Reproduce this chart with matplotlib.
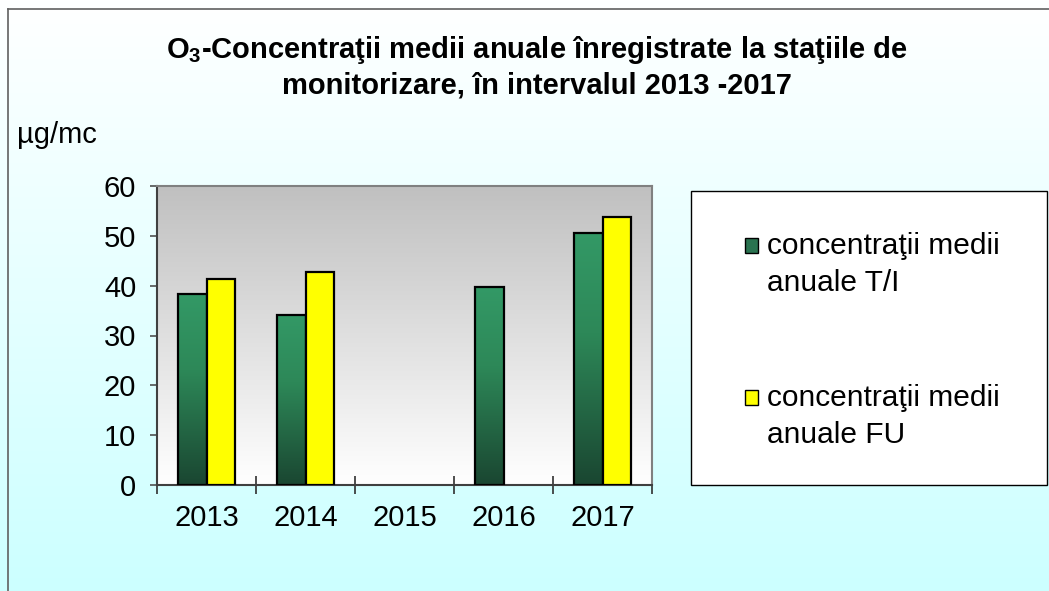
import numpy as np
import matplotlib
matplotlib.use("Agg")
import matplotlib.pyplot as plt
from matplotlib.patches import Patch, Rectangle
from matplotlib.lines import Line2D
from matplotlib.colors import LinearSegmentedColormap

plt.rcParams['font.family'] = ['Liberation Sans', 'DejaVu Sans']
plt.rcParams['mathtext.fontset'] = 'custom'
plt.rcParams['mathtext.bf'] = 'Liberation Sans:bold'
plt.rcParams['mathtext.rm'] = 'Liberation Sans'

# data
years = ['2013', '2014', '2015', '2016', '2017']
ti_values = [38.3, 34.2, np.nan, 39.7, 50.6]   # concentratii medii anuale T/I
fu_values = [41.4, 42.7, np.nan, np.nan, 53.8]  # concentratii medii anuale FU
ti_label = 'concentraţii medii\nanuale T/I'
fu_label = 'concentraţii medii\nanuale FU'

fig = plt.figure(figsize=(10.49, 5.91), dpi=100)

# figure background: white -> light cyan
bg = fig.add_axes([0, 0, 1, 1], zorder=-10)
bg_cmap = LinearSegmentedColormap.from_list('bg', ['#ffffff', '#ccffff'])
bg.imshow(np.linspace(0, 1, 256).reshape(-1, 1), cmap=bg_cmap, aspect='auto',
          extent=[0, 1, 0, 1], origin='upper')
bg.set_xlim(0, 1)
bg.set_ylim(0, 1)
bg.axis('off')

# outer frame (left and top edge)
fig.add_artist(Line2D([8 / 1049, 8 / 1049], [0, 1 - 9 / 591], transform=fig.transFigure,
                      color='#606060', lw=1.2))
fig.add_artist(Line2D([8 / 1049, 1], [1 - 9 / 591, 1 - 9 / 591], transform=fig.transFigure,
                      color='#606060', lw=1.2))

ax = fig.add_axes([157 / 1049, 1 - 485 / 591, 495 / 1049, 299 / 591])
ax.set_facecolor('none')

# plot area background: gray -> white
pa_cmap = LinearSegmentedColormap.from_list('pa', ['#ffffff', '#c0c0c0'])
ax.imshow(np.linspace(0, 1, 256).reshape(-1, 1), cmap=pa_cmap, aspect='auto',
          extent=[0, 1, 0, 1], origin='lower', transform=ax.transAxes, zorder=0)

x = np.arange(len(years))
w = 0.29
ti = np.array(ti_values)
fu = np.array(fu_values)
m1 = ~np.isnan(ti)
m2 = ~np.isnan(fu)

green_cmap = LinearSegmentedColormap.from_list(
    'gr', [(0.0, '#1a4631'), (0.6, '#2d8858'), (1.0, '#339966')])
ti_bars = ax.bar(x[m1] - w / 2, ti[m1], width=w, facecolor='none', edgecolor='black',
                 linewidth=1.6, zorder=3)
for b in ti_bars:
    bx, bw, bh = b.get_x(), b.get_width(), b.get_height()
    ax.imshow(np.linspace(0, 1, 256).reshape(-1, 1), cmap=green_cmap, aspect='auto',
              extent=[bx, bx + bw, 0, bh], origin='lower', zorder=2)
ax.bar(x[m2] + w / 2, fu[m2], width=w, color='#ffff00', edgecolor='black',
       linewidth=1.6, zorder=3)

ax.set_xlim(-0.5, len(years) - 0.5)
ax.set_ylim(0, 60)
ax.set_yticks(np.arange(0, 61, 10))
ax.set_xticks(np.arange(-0.5, len(years), 1.0))
ax.set_xticklabels([])
ax.set_xticks(x, minor=True)
ax.set_xticklabels(years, minor=True)
ax.tick_params(axis='x', which='major', direction='inout', length=13, width=1.2,
               color='#303030')
ax.tick_params(axis='x', which='minor', length=0, pad=14, labelsize=21)
ax.tick_params(axis='y', direction='out', length=5, width=1.2, color='#505050',
               pad=10, labelsize=21)
for s in ['top', 'right']:
    ax.spines[s].set_color('#808080')
    ax.spines[s].set_linewidth(1.5)
for s in ['left', 'bottom']:
    ax.spines[s].set_color('#404040')
    ax.spines[s].set_linewidth(1.5)

# title and unit
fig.text(537 / 1049, 1 - 67 / 591,
         'O$_\\mathbf{3}$-Concentraţii medii anuale înregistrate la staţiile de\n'
         'monitorizare, în intervalul 2013 -2017',
         ha='center', va='center', fontsize=21, fontweight='bold', linespacing=1.27)
fig.text(17 / 1049, 1 - 135 / 591, 'µg/mc', ha='left', va='center', fontsize=21)

# legend box
fig.add_artist(Rectangle((691 / 1049, 1 - 485 / 591), 356 / 1049, 294 / 591,
                         transform=fig.transFigure, facecolor='white',
                         edgecolor='black', lw=1.0, zorder=1))
handles = [Patch(facecolor='#2a7350', edgecolor='black', linewidth=1.0),
           Patch(facecolor='#ffff00', edgecolor='black', linewidth=1.0)]
leg = fig.legend(handles, [ti_label, fu_label], loc='upper left',
                 bbox_to_anchor=(745 / 1049, 1 - 232 / 591), frameon=False,
                 fontsize=21.5, handlelength=0.42, handleheight=0.42,
                 handletextpad=0.32, labelspacing=2.9, borderaxespad=0, borderpad=0)
leg.set_zorder(5)
for t in leg.get_texts():
    t.set_linespacing(1.42)
# put the swatch next to the first line of each label
for h in leg.legend_handles:
    h.set_y(h.get_y() + 14)

fig.savefig('out.png', dpi=100)
